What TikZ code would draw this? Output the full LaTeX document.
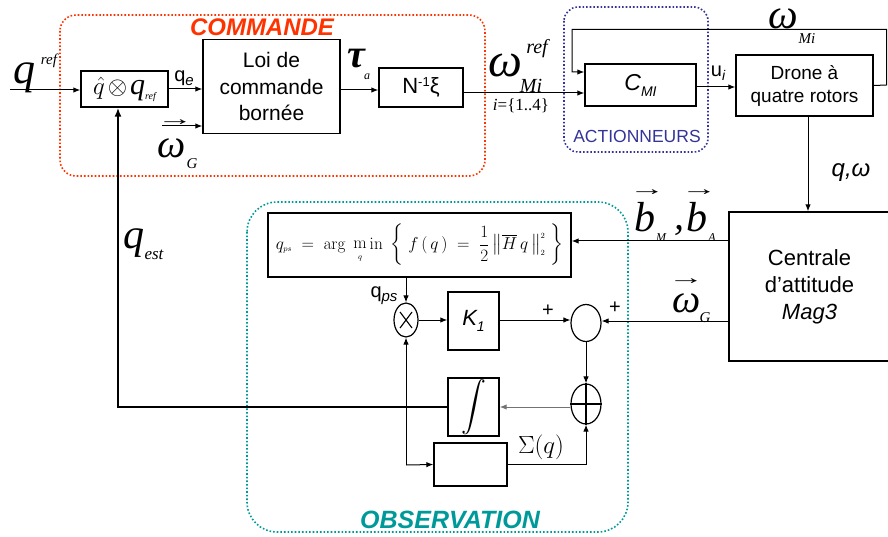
\documentclass[tikz,border=0pt]{standalone}
\usepackage{amsmath}
\usepackage{graphicx}
\usepackage[no-math]{fontspec}
\setmainfont{Liberation Sans}
\newfontfamily\tms{Liberation Serif}
\usetikzlibrary{arrows.meta,shapes.geometric}

\definecolor{cmdred}{HTML}{FF3300}
\definecolor{actblue}{HTML}{333399}
\definecolor{obsteal}{HTML}{009999}

% size helper: \fs{size}{leading}
\newcommand\fs[2]{\fontsize{#1}{#2}\selectfont}

\begin{document}
\begin{tikzpicture}[x=1pt,y=-1pt,
  blk/.style={draw, line width=1.4pt, inner sep=0pt, align=center},
  sumj/.style={draw, ellipse, line width=1.2pt, inner sep=0pt},
  link/.style={line width=1pt, -{Latex[length=7pt,width=5.5pt]}},
  group/.style={line width=1.6pt, dotted, rounded corners=#1},
  big/.style={font=\tms\itshape\fs{42}{42}, inner sep=0pt, anchor=base},
  sub/.style={font=\tms\itshape\fs{15}{15}, inner sep=0pt},
  vecarr/.style={font=\tms\fs{20}{20}, inner sep=0pt},
  sans/.style={font=\fs{20}{20}, inner sep=0pt, anchor=base},
]
\useasboundingbox (0,0) rectangle (888,537);

% ---------- grouping frames ----------
\draw[group=16pt, cmdred] (60,15) rectangle (485,176);
\node[font=\bfseries\itshape\fs{24}{24}, text=cmdred, inner sep=0pt] (tcmd) at (262,27) {COMMANDE};
\draw[group=14pt, actblue] (564,7) rectangle (708,152);
\node[font=\fs{17.5}{17.5}, text=actblue, inner sep=0pt] (tact) at (637,136) {ACTIONNEURS};
\draw[group=30pt, obsteal] (247,202) rectangle (628,532);
\node[font=\bfseries\itshape\fs{25}{25}, text=obsteal, inner sep=0pt] (tobs) at (450,520) {OBSERVATION};

% ---------- blocks ----------
\node[blk, minimum width=87pt, minimum height=36pt] (quat) at (124.5,89)
  {{\fs{30}{30}$\hat{q}$}\hspace{3pt}{\fs{24}{24}$\otimes$}\hspace{3pt}{\fs{30}{30}\tms\itshape q}\raisebox{-5pt}{\fs{10}{10}\tms\itshape ref}};
\node[blk, minimum width=137pt, minimum height=94pt, font=\fs{21}{26.5}] (loi) at (271.5,86.5)
  {Loi de\\commande\\bornée};
\node[blk, minimum width=84pt, minimum height=39pt, font=\fs{22}{22}] (nbox) at (421,87.5)
  {N\raisebox{7pt}{\fs{13}{13}-1}ξ};
\node[blk, minimum width=111pt, minimum height=42pt, font=\itshape\fs{23}{23}] (cmi) at (640.5,85)
  {C\raisebox{-6pt}{\fs{14}{14}MI}};
\node[blk, minimum width=137pt, minimum height=61pt, font=\fs{19}{23}] (drone) at (804.5,85.5)
  {Drone à\\quatre rotors};
\node[blk, minimum width=161pt, minimum height=149pt, font=\fs{22}{27}] (cent) at (809.5,286.5)
  {Centrale\\d’attitude\\\textit{Mag3}};
\node[blk, minimum width=303pt, minimum height=64pt] (argm) at (419.5,245)
  {\fs{16.5}{16.5}$q_{\scriptscriptstyle ps}\;=\;\mathrm{arg}\;\mathop{\mathrm{m}}\limits_{\scriptscriptstyle q}\mathrm{in}\;
   \left\{\; f\,(\,q\,)\;=\;\dfrac{1}{2}\left\|\overline{H}\,q\,\right\|_{\scriptscriptstyle 2}^{\scriptscriptstyle 2}\;\right\}$};
\node[blk, minimum width=51pt, minimum height=58pt, font=\itshape\fs{22}{22}] (k1) at (473.5,321)
  {K\raisebox{-6pt}{\fs{14}{14}1}};
\node[blk, minimum width=51pt, minimum height=58pt] (integ) at (473.5,407)
  {\fs{26}{26}$\displaystyle\int$};
\node[blk, minimum width=73pt, minimum height=43pt] (sigbox) at (470.5,464.5) {};

\node[sumj, minimum width=24pt, minimum height=34pt] (otm) at (406,320) {};
\draw[line width=1.1pt] ([shift={(-6,-8)}]otm.center) -- ([shift={(6,8)}]otm.center)
                        ([shift={(-6,8)}]otm.center) -- ([shift={(6,-8)}]otm.center);
\node[sumj, minimum width=30pt, minimum height=37pt] (sumc) at (586,323) {};
\node[sumj, minimum width=30pt, minimum height=40pt] (opl) at (586,404) {};
\draw[line width=1.1pt] (opl.north) -- (opl.south) (opl.west) -- (opl.east);

% ---------- free ends and bends ----------
\coordinate (qin)  at (10,90);
\coordinate (wgin) at (162,126);
\coordinate (fbc)  at (118,407);
\coordinate (jn)   at (406,465);
\coordinate (wr)   at (886.5,85);
\coordinate (wtr)  at (886.5,29.5);
\coordinate (wtl)  at (572,29.5);

% ---------- connectors ----------
\draw[link] (qin) -- (qin -| quat.west);
\draw[link] (quat.east) -- (quat.east -| loi.west);
\draw[link] (wgin) -- (wgin -| loi.west);
\draw[link] ([yshift=-3.5pt]loi.east) -- ([yshift=-3.5pt]loi.east -| nbox.west);
\draw[link] ([yshift=-5.5pt]nbox.east) -- ([yshift=-5.5pt]nbox.east -| cmi.west);
\draw[link] ([yshift=-2pt]cmi.east) -- ([yshift=-2pt]cmi.east -| drone.west);
\draw[link] (drone.east) -- (wr) -- (wtr) -- (wtl) -- ([yshift=13pt]wtl |- cmi.west) -- ([yshift=13pt]cmi.west);
\draw[link] ([xshift=3.5pt]drone.south) -- ([xshift=3.5pt]drone.south |- cent.north);
\draw[link] ([yshift=4pt]argm.east -| cent.west) -- ([yshift=4pt]argm.east);
\draw[link] ([yshift=2pt]sumc.east -| cent.west) -- ([yshift=2pt]sumc.east);
\draw[link] (otm.north |- argm.south) -- (otm.north);
\draw[link] (otm.east) -- (otm.east -| k1.west);
\draw[link] ([yshift=1pt]k1.east) -- ([yshift=1pt]k1.east -| sumc.west);
\draw[link] (sumc.south) -- (opl.north);
\draw[link, draw=black!55] ([yshift=-3pt]opl.west) -- ([yshift=-3pt]opl.west -| integ.east);
\draw[line width=2.6pt, -{Latex[length=9pt,width=7pt]}] (integ.west) -- (fbc) -- (fbc |- quat.south);
\draw[link] (jn) -- (otm.south);
\draw[link] (jn) -- (sigbox.west);
\draw[link] (sigbox.east) -- (sigbox.east -| opl.south) -- (opl.south);

% ---------- signal labels ----------
\node[big, font=\tms\itshape\fs{44}{44}] (lq) at (24,84) {q};
\node[sub] (lqr) at (49,61) {ref};
\node[sans] (lqe) at (184,82) {q\raisebox{-4pt}{\fs{15}{15}\itshape e}};
\node[big, font=\tms\itshape\fs{40}{40}] (lwg) at (172,158) {ω};
\node[vecarr] (lwga) at (175,123) {\scalebox{1.8}[1]{→}};
\node[sub] (lwgs) at (192,164) {G};
\node[big, font=\tms\bfseries\itshape\fs{40}{40}] (ltau) at (356,68) {τ};
\node[sub, font=\tms\itshape\fs{12}{12}] (ltaus) at (367,77) {a};
\node[big, font=\tms\itshape\fs{48}{48}] (lwr) at (505,77) {ω};
\node[sub, font=\tms\itshape\fs{20}{20}] (lwrs) at (537,49) {ref};
\node[sub, font=\tms\itshape\fs{20}{20}] (lwrm) at (531,86) {Mi};
\node[sub, font=\tms\fs{17}{17}] (lwri) at (521,106) {\textit{i}=\{1..4\}};
\node[sans] (lui) at (718,77) {u\raisebox{-4pt}{\fs{14}{14}\itshape i}};
\node[big, font=\tms\itshape\fs{42}{42}] (lwm) at (783,29) {ω};
\node[sub] (lwms) at (807,39) {Mi};
\node[font=\itshape\fs{24}{24}, inner sep=0pt] (lqw) at (851,173) {q,ω};
\node[big, font=\tms\itshape\fs{42}{42}] (lbm) at (645,232) {b};
\node[vecarr] (lbma) at (647,193) {\scalebox{1.8}[1]{→}};
\node[sub, font=\tms\itshape\fs{12}{12}] (lbms) at (661,238) {M};
\node[big, font=\tms\itshape\fs{40}{40}] (lcom) at (679,230) {,};
\node[big, font=\tms\itshape\fs{42}{42}] (lba) at (697,232) {b};
\node[vecarr] (lbaa) at (699,193) {\scalebox{1.8}[1]{→}};
\node[sub, font=\tms\itshape\fs{12}{12}] (lbas) at (712,238) {A};
\node[big, font=\tms\itshape\fs{40}{40}] (lwg2) at (687,312) {ω};
\node[vecarr] (lwg2a) at (686,282) {\scalebox{1.8}[1]{→}};
\node[sub] (lwg2s) at (705,318) {G};
\node[big] (lqest) at (134,249) {q};
\node[sub, font=\tms\itshape\fs{17}{17}] (lqests) at (154,255) {est};
\node[sans] (lqps) at (384,297) {q\raisebox{-4pt}{\fs{15}{15}\itshape ps}};
\node[font=\fs{20}{20}, inner sep=0pt] (lp1) at (548,311) {+};
\node[font=\fs{20}{20}, inner sep=0pt] (lp2) at (615,308) {+};
\node[font=\fs{25}{25}, inner sep=0pt] (lsig) at (541,447) {$\Sigma(q)$};
\end{tikzpicture}
\end{document}
